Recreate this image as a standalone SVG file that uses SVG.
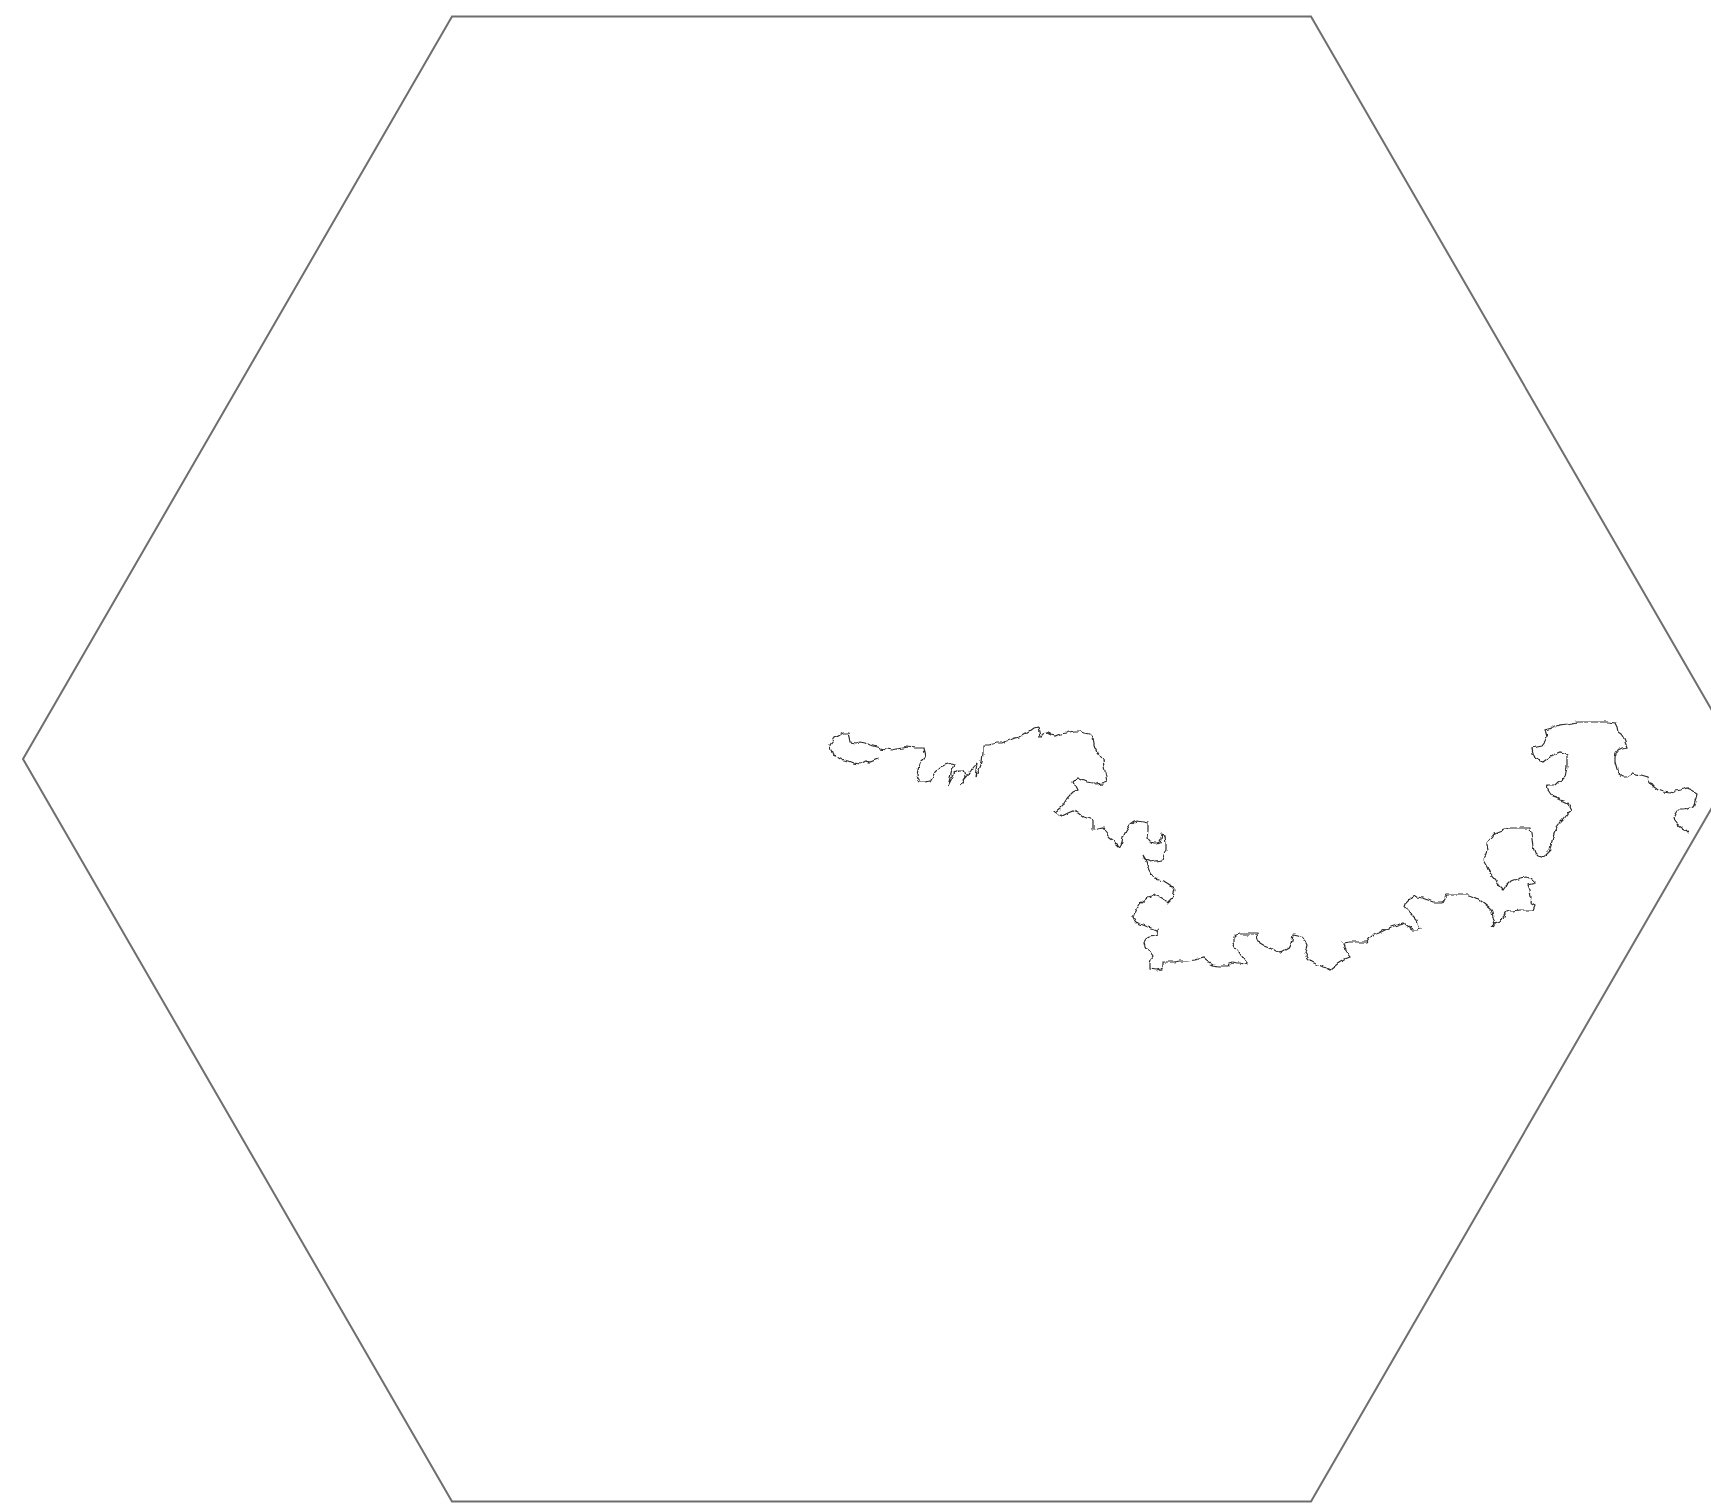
<svg xmlns="http://www.w3.org/2000/svg" width="1711" height="1504" viewBox="0 0 1711 1504">
<style>
.hex{fill:none;stroke:#6e6e6e;stroke-width:2;stroke-linejoin:miter}
.walk{fill:none;stroke:#2a2a2a;stroke-width:1.2;stroke-linejoin:miter;stroke-linecap:square}
</style>
<defs>
<filter id="rough" filterUnits="userSpaceOnUse" x="800" y="690" width="920" height="310">
<feTurbulence type="fractalNoise" baseFrequency="0.14" numOctaves="2" seed="7" result="n"/>
<feDisplacementMap in="SourceGraphic" in2="n" scale="5" xChannelSelector="R" yChannelSelector="G"/>
</filter>
</defs>
<rect width="1711" height="1504" fill="#ffffff"/>
<polygon class="hex" points="452,16.5 1311,16.5 1740,759 1311,1501.5 452,1501.5 23,759"/>
<polyline class="walk" filter="url(#rough)" points="878,759 870,762 866,761 860,764 853,763 848,761 843,760 838,757 833,755 831,750 830,745 833,741 835,738 840,735 843,733 848,733 849,737 850,742 856,743 860,742 865,743 869,745 873,746 880,748 887,749 892,750 897,749 902,748 907,747 915,748 923,748 924,752 925,757 922,760 920,763 918,770 917,775 918,779 920,782 925,782 930,781 933,776 935,772 939,768 942,767 945,765 948,764 952,763 955,764 952,770 950,778 948,786 951,780 955,772 958,770 963,770 965,777 961,783 960,785 965,778 970,772 973,768 977,763 976,770 975,777 979,770 982,762 983,753 983,745 988,745 993,744 998,743 1002,743 1006,741 1010,740 1015,738 1020,737 1025,734 1030,731 1034,728 1038,727 1039,731 1040,736 1044,734 1047,733 1051,735 1055,736 1060,734 1067,733 1073,731 1079,731 1085,733 1090,734 1093,737 1094,742 1094,747 1097,750 1098,753 1101,757 1103,760 1104,766 1105,772 1106,777 1107,782 1102,784 1097,785 1092,783 1087,782 1082,780 1078,778 1075,780 1073,782 1075,786 1077,790 1073,792 1070,795 1066,800 1063,805 1060,808 1055,812 1058,814 1062,816 1068,813 1073,811 1078,813 1083,817 1088,818 1093,820 1093,826 1093,830 1098,829 1103,828 1106,832 1110,837 1114,840 1117,844 1120,847 1122,842 1123,837 1126,831 1130,825 1134,822 1138,821 1143,822 1148,823 1148,830 1147,838 1150,842 1153,843 1157,843 1160,842 1161,838 1162,833 1164,835 1165,837 1166,843 1166,850 1164,855 1162,860 1156,861 1150,862 1146,860 1143,855 1145,860 1147,865 1149,870 1153,877 1158,879 1163,880 1167,883 1170,885 1173,888 1175,890 1174,893 1173,897 1170,900 1167,903 1164,900 1162,897 1158,895 1155,895 1151,897 1147,898 1142,902 1138,907 1135,912 1133,917 1135,921 1137,923 1142,925 1147,927 1152,928 1157,930 1158,933 1158,935 1154,936 1150,937 1147,939 1145,942 1146,946 1148,950 1151,954 1153,957 1151,960 1150,963 1150,966 1150,969 1156,970 1162,969 1163,965 1163,962 1168,962 1173,962 1180,961 1187,961 1195,960 1203,958 1208,962 1213,965 1220,966 1227,966 1230,963 1233,962 1237,963 1240,963 1244,964 1247,963 1243,958 1240,953 1237,950 1235,947 1233,943 1233,938 1236,935 1240,934 1248,934 1257,934 1258,939 1260,943 1265,946 1270,948 1275,951 1280,953 1285,950 1290,947 1292,941 1293,935 1298,936 1303,938 1305,941 1307,945 1306,949 1305,953 1308,958 1312,962 1316,964 1322,967 1326,968 1330,970 1335,966 1340,962 1345,959 1350,957 1347,953 1345,950 1344,946 1343,943 1349,942 1355,942 1361,942 1367,942 1370,938 1373,935 1379,933 1385,930 1391,927 1397,925 1400,924 1403,923 1408,927 1413,930 1417,930 1420,929 1418,924 1417,920 1413,916 1410,913 1407,910 1405,907 1406,904 1407,902 1411,898 1415,895 1418,897 1422,898 1428,900 1433,902 1438,902 1443,902 1445,898 1447,895 1452,895 1458,895 1464,895 1470,895 1475,897 1480,900 1485,904 1490,908 1492,912 1493,917 1494,921 1495,925 1490,927 1495,924 1500,922 1503,917 1505,913 1509,911 1513,911 1520,910 1527,910 1533,910 1535,905 1530,902 1531,896 1530,890 1528,885 1535,883 1531,879 1527,877 1520,878 1515,880 1510,882 1506,886 1503,890 1499,886 1495,880 1490,874 1487,867 1483,860 1486,855 1488,850 1487,846 1487,843 1491,838 1495,833 1500,831 1505,829 1510,828 1520,828 1530,828 1531,834 1532,840 1533,847 1535,853 1538,856 1542,857 1546,854 1550,850 1551,845 1552,840 1554,833 1557,827 1560,823 1563,820 1566,816 1568,813 1572,810 1570,806 1568,803 1564,801 1560,800 1556,798 1553,797 1550,793 1548,790 1547,785 1551,785 1555,785 1558,782 1562,780 1565,777 1566,772 1567,767 1567,761 1567,755 1564,753 1560,752 1555,754 1550,757 1547,759 1543,762 1538,760 1535,758 1533,753 1532,748 1537,746 1542,745 1545,741 1547,737 1546,733 1545,730 1552,728 1560,725 1567,724 1573,723 1578,722 1583,722 1590,722 1600,722 1608,722 1615,723 1617,727 1618,732 1621,734 1623,737 1625,742 1627,747 1622,748 1618,750 1616,753 1615,757 1615,763 1617,770 1618,773 1620,775 1623,777 1627,777 1630,775 1633,773 1640,775 1647,777 1648,780 1650,783 1653,787 1657,790 1663,792 1670,793 1675,791 1680,790 1684,789 1687,788 1692,790 1697,793 1696,797 1695,800 1694,804 1693,807 1688,809 1683,810 1680,810 1677,810 1675,813 1673,817 1674,821 1677,825 1681,828 1685,830 1688,833"/>
</svg>
